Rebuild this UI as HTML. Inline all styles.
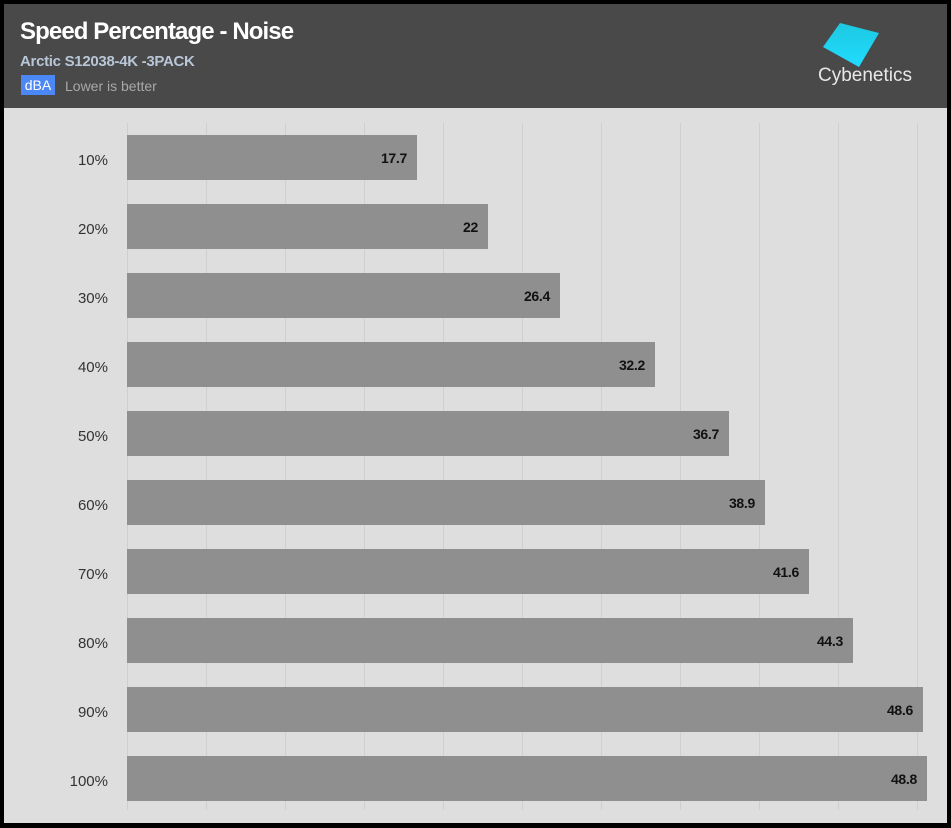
<!DOCTYPE html>
<html><head><meta charset="utf-8"><style>
body{margin:0;background:#000;width:951px;height:828px;overflow:hidden;font-family:"Liberation Sans",sans-serif}
.hdr{position:absolute;left:4px;top:4px;width:943px;height:104px;background:#494949}
.plot{position:absolute;left:4px;top:108px;width:943px;height:715px;background:#dedede}
.t{position:absolute;left:20px;top:18px;color:#fff;font-size:24px;font-weight:bold;letter-spacing:-0.9px}
.s{position:absolute;left:20px;top:53px;color:#b8c6d8;font-size:15px;font-weight:bold;letter-spacing:-0.3px}
.b{position:absolute;left:21px;top:75px;width:34px;height:20px;background:#4c87f6;color:#fff;font-size:14px;text-align:center;line-height:20px}
.l{position:absolute;left:65px;top:78px;color:#a8a8a8;font-size:14px}
.g{position:absolute;top:123px;height:687px;width:1px;background:#cfcfcf}
.bar{position:absolute;left:127px;height:45px;background:#8f8f8f}
.v{position:absolute;right:10px;top:15px;font-size:14px;font-weight:bold;color:#111;letter-spacing:-0.3px}
.y{position:absolute;width:108px;text-align:right;font-size:15px;color:#333}
</style></head><body>
<div class="hdr"></div><div class="plot"></div>
<div class="t">Speed Percentage - Noise</div>
<div class="s">Arctic S12038-4K -3PACK</div>
<div class="b">dBA</div><div class="l">Lower is better</div>
<svg style="position:absolute;left:0;top:0" width="951" height="110">
<defs><linearGradient id="lg" x1="0" y1="0" x2="0" y2="1"><stop offset="0" stop-color="#1ec8e0"/><stop offset="1" stop-color="#20dcff"/></linearGradient></defs>
<polygon points="840,23 879,33 859,67 823,47" fill="url(#lg)"/>
<text x="818" y="81" font-family="Liberation Sans" font-size="19" fill="#e8e8e8">Cybenetics</text>
</svg>
<div class="g" style="left:127px"></div><div class="g" style="left:206px"></div><div class="g" style="left:285px"></div><div class="g" style="left:364px"></div><div class="g" style="left:443px"></div><div class="g" style="left:522px"></div><div class="g" style="left:601px"></div><div class="g" style="left:680px"></div><div class="g" style="left:759px"></div><div class="g" style="left:838px"></div><div class="g" style="left:917px"></div>
<div class="bar" style="top:135px;width:290px"><span class="v">17.7</span></div>
<div class="bar" style="top:204px;width:361px"><span class="v">22</span></div>
<div class="bar" style="top:273px;width:433px"><span class="v">26.4</span></div>
<div class="bar" style="top:342px;width:528px"><span class="v">32.2</span></div>
<div class="bar" style="top:411px;width:602px"><span class="v">36.7</span></div>
<div class="bar" style="top:480px;width:638px"><span class="v">38.9</span></div>
<div class="bar" style="top:549px;width:682px"><span class="v">41.6</span></div>
<div class="bar" style="top:618px;width:726px"><span class="v">44.3</span></div>
<div class="bar" style="top:687px;width:796px"><span class="v">48.6</span></div>
<div class="bar" style="top:756px;width:800px"><span class="v">48.8</span></div>
<div class="y" style="top:152px">10%</div><div class="y" style="top:221px">20%</div><div class="y" style="top:290px">30%</div><div class="y" style="top:359px">40%</div><div class="y" style="top:428px">50%</div><div class="y" style="top:497px">60%</div><div class="y" style="top:566px">70%</div><div class="y" style="top:635px">80%</div><div class="y" style="top:704px">90%</div><div class="y" style="top:773px">100%</div>
</body></html>
